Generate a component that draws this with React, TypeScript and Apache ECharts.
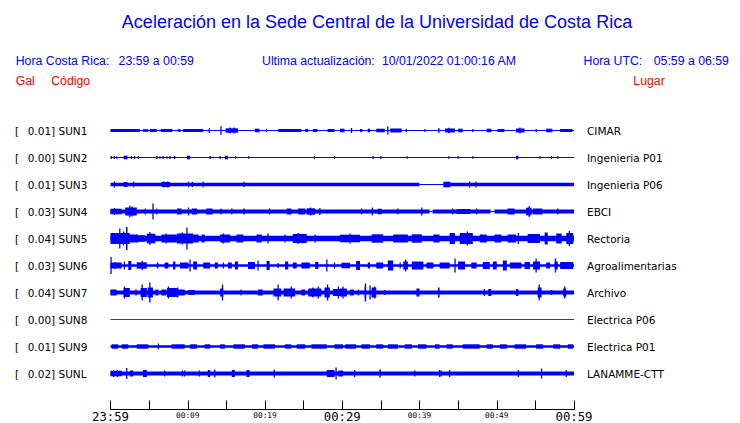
import React, { useEffect, useRef } from "react";
import * as echarts from "echarts";

// ---------- data ----------
const ROW_GAP = 27; // amplitude units between station baselines
const TIME_LABELS = ["23:59", "00:04", "00:09", "00:14", "00:19", "00:24", "00:29", "00:34", "00:39", "00:44", "00:49", "00:54", "00:59"];
const BIG_LABELS = ["23:59", "00:29", "00:59"];
const SMALL_LABELS = ["00:09", "00:19", "00:39", "00:49"];
const CODES = ["SUN1", "SUN2", "SUN3", "SUN4", "SUN5", "SUN6", "SUN7", "SUN8", "SUN9", "SUNL"];
const GAL = ["0.01", "0.00", "0.01", "0.03", "0.04", "0.03", "0.04", "0.00", "0.01", "0.02"];
const PLACES = ["CIMAR", "Ingenieria P01", "Ingenieria P06", "EBCI", "Rectoria", "Agroalimentarias", "Archivo", "Electrica P06", "Electrica P01", "LANAMME-CTT"];

// each trace: [startMinute, endMinute, halfAmplitude]
const SUN1 = [[0,60,0.5],[0,3.8,1.5],[4.2,4.9,1.3],[5.1,6.0,1.5],[6.5,8.0,1.5],[8.7,9.1,1.3],[9.4,12.0,1.5],[12.8,12.8,2.5],[14.3,14.3,4.3],[14.9,16.5,2.2],[15.5,15.5,3],[16.0,16.0,3],[18.7,19.3,1.8],[20.2,20.2,1.8],[21.7,24.7,1.5],[25.2,25.6,1.5],[26.2,26.8,1.5],[28.1,29.0,1.5],[29.7,30.3,1.8],[31.2,31.2,2.5],[32.3,32.6,1.5],[33.3,33.6,1.8],[34.4,35.5,1.8],[35.9,35.9,4],[36.2,37.7,2],[38.3,38.3,1.5],[40.7,40.7,1.5],[42.4,42.6,2.2],[43.3,44.6,2],[43.8,43.8,2.8],[45,45.6,1.8],[46.9,46.9,1.5],[48.7,49.3,1.8],[50.1,51,1.5],[52.5,53.6,2],[53,53,3],[55.1,55.1,1.5],[56.4,57.2,1.8],[58.2,59.8,1.5]];
const SUN2 = [[0,60,0.5],[0.1,0.1,1.5],[0.5,0.5,1.5],[0.8,0.8,1.2],[1.7,2.2,1.8],[2.7,2.7,1.5],[3.1,3.1,1.5],[3.6,3.6,1.2],[6.0,6.0,1.5],[6.4,6.4,1.2],[6.8,6.8,1.5],[7.3,7.3,1.2],[7.7,7.7,1.5],[8.3,8.3,1.5],[9.9,10.3,1.8],[12.9,12.9,1.5],[14.2,14.2,1.5],[14.8,15.2,1.8],[16.2,16.2,1.2],[17.9,17.9,1.2],[26.4,26.4,1.2],[29,29,1.5],[34,34,1.5],[35,35,1.5],[38.4,38.4,1.2],[43.8,43.8,1.2],[45,45,1.2],[46.9,46.9,1.2],[52.5,52.8,1.8],[55.6,55.6,1.2],[57.1,57.1,1.5],[57.9,57.9,1.2]];
const SUN3 = [[0,40,1.8],[40,43.1,0.5],[43.1,60,1.8],[0.5,0.5,3],[1.7,2.2,2.5],[3,3,2.7],[6.6,7.7,2.5],[6.9,6.9,3],[7.4,7.4,3],[10.1,10.1,2.7],[10.6,10.6,2.5],[12,12,2.7],[17.3,17.3,2.7],[43.1,44,2.8],[46.5,46.5,3],[47.3,47.3,3]];
const SUN4 = [[0,41.3,2],[41.3,41.7,0.6],[41.7,49.2,2],[49.2,49.7,0.6],[49.7,60,2],[0,1.45,2.8],[0.5,0.5,3.5],[1.9,3.4,4],[2.5,2.5,6],[2.8,2.8,5],[4.5,4.5,3],[5.5,5.5,8],[6,6,3],[8.6,9.2,3],[10.1,10.1,4],[10.5,11.2,3],[12.4,13.2,3],[14.2,14.4,2.8],[15.7,15.7,3],[17.2,17.4,3],[20.6,20.6,3],[22.8,23.4,3],[24.3,25.2,3],[25.4,26.5,3.2],[25.9,25.9,4],[27.1,27.1,3.5],[32.5,32.5,3],[33.9,33.9,4],[34.6,35.1,2.8],[37.2,37.2,3],[40.3,40.3,4],[44.3,44.3,3],[44.8,46.6,2.5],[47.4,47.4,3],[51.4,52.3,3],[53.8,54.5,3.8],[54.2,54.2,5.5],[54.7,55.9,3],[57.9,57.9,3]];
const SUN5 = [[0,60,2.7],[0,2.5,5.5],[1.2,1.2,10],[1.7,1.7,7],[2.0,2.2,11.5],[2.5,3.6,4],[3.6,4.5,3.3],[4.7,5.8,4.8],[5.1,5.1,6.5],[6.6,8.6,4],[7.2,7.2,5],[8.6,10.7,5],[9.3,9.3,6],[9.9,9.9,11],[10.7,11.4,4],[11.8,12.2,4],[14.2,15.5,4],[14.6,14.6,5],[16.3,17.2,4],[18.9,19.6,4],[20.4,20.4,5],[22.6,22.6,4],[23.6,25.4,4.5],[24.3,24.3,5.5],[26.5,26.5,4],[29.7,32.3,3.8],[31,31,5],[33.8,35.3,4.2],[36.6,38.5,4],[39,40.3,4.2],[41.8,42.6,4],[43.9,44.6,5.5],[45.2,46.9,5.5],[46.2,46.2,7],[47.8,48.7,4],[49.7,50.6,4],[51.4,52.5,4],[52.8,52.8,5.5],[54,55.6,4.5],[56.2,56.6,6],[57.7,58.4,5],[59,59.9,5.5],[59.4,59.4,7.5]];
const SUN6 = [[0,60,1.2],[0.07,0.07,8.5],[0,1.45,3],[0.6,0.6,3.5],[1.8,1.8,4],[2.3,2.7,4.5],[3.4,4.7,3.2],[4.1,4.1,4.5],[6,6.2,3],[7,7.5,3],[8.1,8.4,4],[9,10.1,3],[10.3,10.3,6],[10.7,11.2,4],[12,12.9,3],[13.5,13.9,3],[14.6,14.6,3],[15.2,15.7,3],[16.1,16.5,4],[17.8,18.7,3.5],[19.1,19.1,5],[20.2,20.6,4.5],[21.7,21.7,2.5],[22.6,23,4],[23.6,24.1,3],[24.7,25.8,3],[26.5,26.9,3.5],[28,28,6],[29,29,3],[29.9,31,2.8],[31.8,32.3,4.5],[33.3,33.6,3],[34.4,35.3,3],[35.9,36.6,5],[37.5,37.5,3],[37.9,38.5,4],[38.2,38.2,6],[39,40.5,4],[40.9,41.8,3],[42.6,43.9,3],[44.6,44.6,7],[45,45.9,4],[46.7,47.4,3],[48.2,49.1,3.5],[49.5,50,4],[50.8,51.3,5],[51.7,53.2,3],[53.6,54.3,3.5],[54.7,55.6,4],[55.1,55.1,7],[56.4,56.9,3],[57.5,57.9,4],[57.6,57.6,7],[58.2,59.9,3.5]];
const SUN7 = [[0,60,2],[0,0.8,3],[1.7,2.5,4.5],[1.8,1.8,6],[3.2,3.4,3],[3.9,4.7,4.5],[4.1,4.1,8],[4.8,5.5,5],[5.1,5.1,10],[5.8,6.2,3],[6.6,7.2,3],[7.3,8.6,4.5],[7.5,7.5,6],[8.7,8.7,5],[8.7,9.6,3],[10.1,10.9,2.5],[14.2,14.6,4],[14.5,14.5,8],[16.9,16.9,3],[19.1,19.7,3],[21.1,22.1,4],[21.7,21.7,8],[22.4,23.9,4],[23.4,23.4,6],[24.7,25.2,3],[25.6,27.3,4],[26.2,26.2,5],[26.9,26.9,6],[27.7,28.4,5],[28.1,28.1,8],[28.8,30.3,3.5],[29.5,29.5,6],[29.7,30.6,4],[30.1,30.1,6],[31,31.5,3],[32.1,32.1,3],[32.9,33.1,6],[33,33,9],[33.6,33.6,7],[33.8,34.4,5],[34.2,34.2,6],[35.5,35.5,2.5],[39.6,40,4],[42.4,42.6,5],[48.4,48.4,3.5],[48.9,49.3,3.5],[52.5,52.8,3.5],[55.3,55.8,5],[55.5,55.5,8],[57.1,57.1,2.5],[58.6,59,4],[58.8,58.8,6]];
const SUN8 = [[0,60,0.5]];
const SUN9 = [[0,60,1.3],[0.15,1,2.2],[1.45,2.3,2.2],[3.4,4.9,2.2],[6.2,6.2,3],[7.9,9.6,2.2],[10.3,11.2,2.2],[12.2,12.9,2.2],[14.2,14.8,2.2],[15.9,17.4,2.2],[18.3,19.1,2.2],[19.8,21.3,2.2],[22.6,23.4,2.2],[24.1,25.2,2.2],[26,28,2.2],[29,30.1,2.2],[30.4,31.8,2.2],[32.5,33.6,2.2],[34.4,35.3,2.2],[35.9,37.2,2.2],[38.1,39,2.2],[39.8,40.9,2.2],[42,42.6,2.2],[43.5,44.3,2.2],[45.6,47.8,2.2],[48.7,49.5,2.2],[50.4,51.3,2.2],[52.3,53.8,2.2],[55.1,56,2.2],[57.3,58.2,2.2],[59.2,59.9,2.2]];
const SUNL = [[0,60,2],[0,1.45,2.8],[0.4,0.4,3.5],[0.9,0.9,3.5],[2.1,2.1,5.5],[2.5,2.95,3],[4.2,4.7,3.5],[7,7,3],[9.3,9.3,3],[9.6,9.6,3],[11.5,11.5,3],[12.6,12.9,3.5],[13.5,13.5,4],[15.7,16.1,3.5],[17.6,18,3.5],[21.2,21.2,4],[28,29,3.5],[29.2,29.2,6],[29.5,30.1,3],[31.6,31.6,3.5],[34.8,35,4],[39.4,39.4,3],[42.6,42.6,3.5],[42.8,42.8,3],[43.9,43.9,3.5],[52.8,52.8,3.5],[55.8,55.8,5],[59,59,3.5]];
const TRACES = [SUN1, SUN2, SUN3, SUN4, SUN5, SUN6, SUN7, SUN8, SUN9, SUNL];

// ---------- styles ----------
const BLUE = "#0000ff";
const RED = "#ff0000";
const TRACE_RED = "#d40000";
const SANS = "'Liberation Sans', Arial, sans-serif";
const DJ = "'DejaVu Sans', sans-serif";
const MONO = "'DejaVu Sans Mono', monospace";

export default function App() {
  const ref = useRef<HTMLDivElement>(null);
  useEffect(() => {
    document.body.style.margin = "0";
    if (!ref.current) return;
    const chart = echarts.init(ref.current, undefined, { renderer: "svg" });

    const rowLabel = (v: number) => {
      const i = Math.round(v / ROW_GAP) - 1;
      if (i < 0 || i >= CODES.length || Math.abs(v - (i + 1) * ROW_GAP) > 0.01) return -1;
      return i;
    };

    const series = TRACES.map((tr, i) => ({
      type: "custom",
      name: CODES[i],
      xAxisIndex: 0,
      yAxisIndex: 0,
      itemStyle: { color: CODES[i] === "SUN8" ? TRACE_RED : BLUE },
      encode: { x: [0, 1], y: 2 },
      clip: false,
      data: tr.map((s) => [s[0], s[1], (i + 1) * ROW_GAP, s[2]]),
      renderItem: (params: any, api: any) => {
        const s = api.value(0), e = api.value(1), base = api.value(2), a = api.value(3);
        const p1 = api.coord([s, base - a]);
        const p2 = api.coord([e, base + a]);
        let x = Math.min(p1[0], p2[0]);
        let w = Math.abs(p2[0] - p1[0]);
        if (w < 1.3) {
          x = (p1[0] + p2[0]) / 2 - 0.65;
          w = 1.3;
        }
        const y = Math.min(p1[1], p2[1]);
        const h = Math.max(1, Math.abs(p2[1] - p1[1]));
        return {
          type: "rect",
          shape: { x, y, width: w, height: h },
          style: { fill: api.visual("color") },
        };
      },
    }));

    const headerText = (text: string, x: number, y: number, color: string, size = 12.3, align = "left") => ({
      type: "text",
      x,
      y,
      style: { text, fill: color, font: `${size}px ${SANS}`, textAlign: align, textVerticalAlign: "middle" },
    });

    chart.setOption({
      animation: false,
      backgroundColor: "#ffffff",
      grid: { left: 110.5, width: 463.5, top: 103.5, height: 306 },
      xAxis: {
        type: "value",
        position: "bottom",
        min: 0,
        max: 60,
        interval: 5,
        axisLine: { show: true, onZero: false, lineStyle: { color: "#000", width: 1 } },
        axisTick: { show: true, inside: true, length: 9, lineStyle: { color: "#000", width: 1 } },
        splitLine: { show: false },
        axisLabel: {
          show: true,
          margin: 2,
          color: "#000",
          showMinLabel: true,
          showMaxLabel: true,
          formatter: (v: number) => {
            const t = TIME_LABELS[Math.round(v / 5)];
            if (BIG_LABELS.includes(t)) return `{big|${t}}`;
            if (SMALL_LABELS.includes(t)) return `{small|${t}}`;
            return "";
          },
          rich: {
            big: { fontFamily: MONO, fontSize: 12.3, lineHeight: 11, color: "#000" },
            small: { fontFamily: MONO, fontSize: 7.8, lineHeight: 7, color: "#000" },
          },
        },
      },
      yAxis: [
        {
          type: "value",
          position: "left",
          inverse: true,
          min: 0,
          max: 306,
          interval: ROW_GAP,
          axisLine: { show: false },
          axisTick: { show: false },
          splitLine: { show: false },
          axisLabel: {
            margin: 95.5,
            align: "left",
            formatter: (v: number) => {
              const i = rowLabel(v);
              if (i < 0) return "";
              return `{b|[}{v|${GAL[i]}] ${CODES[i]}}`;
            },
            rich: {
              b: { fontFamily: DJ, fontSize: 10.5, color: "#000", width: 12.7 },
              v: { fontFamily: DJ, fontSize: 10.5, color: "#000" },
            },
          },
        },
        {
          type: "value",
          position: "right",
          inverse: true,
          min: 0,
          max: 306,
          interval: ROW_GAP,
          axisLine: { show: false },
          axisTick: { show: false },
          splitLine: { show: false },
          axisLabel: {
            margin: 13,
            align: "left",
            fontFamily: DJ,
            fontSize: 10.5,
            color: "#000",
            formatter: (v: number) => {
              const i = rowLabel(v);
              if (i < 0) return "";
              return PLACES[i];
            },
          },
        },
      ],
      series,
      graphic: [
        headerText("Aceleración en la Sede Central de la Universidad de Costa Rica", 377, 22, BLUE, 18, "center"),
        headerText("Hora Costa Rica:", 15.7, 61, BLUE),
        headerText("23:59 a 00:59", 118.6, 61, BLUE),
        headerText("Ultima actualización:", 262, 61, BLUE),
        headerText("10/01/2022 01:00:16 AM", 381.9, 61, BLUE),
        headerText("Hora UTC:", 583.5, 61, BLUE),
        headerText("05:59 a 06:59", 653.7, 61, BLUE),
        headerText("Gal", 15.7, 81, RED),
        headerText("Código", 51.2, 81, RED),
        headerText("Lugar", 633.3, 81, RED),
      ],
    });
    return () => chart.dispose();
  }, []);
  return <div ref={ref} style={{ position: "fixed", left: 0, top: 0, width: 740, height: 423 }} />;
}
